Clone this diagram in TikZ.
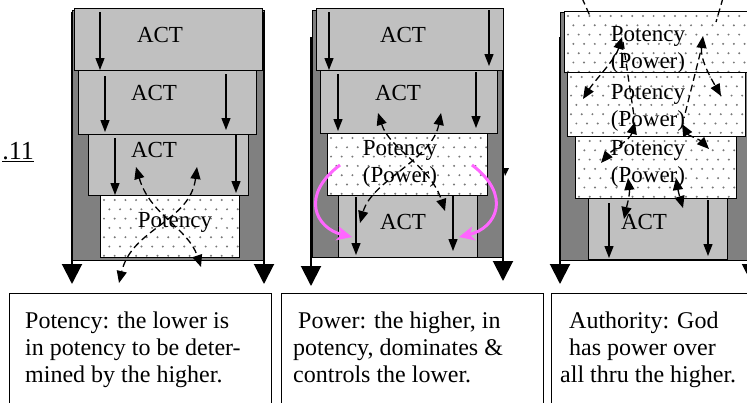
\documentclass[tikz,border=0pt]{standalone}
\usepackage{fontspec}
\setmainfont{Liberation Serif}
\usetikzlibrary{arrows.meta}
\definecolor{lightg}{RGB}{192,192,192}
\definecolor{darkg}{RGB}{128,128,128}
\definecolor{dotg}{RGB}{120,120,120}
\definecolor{pinkm}{RGB}{255,102,255}
\newcommand\mydots[4]{%
  \begin{scope}
    \clip (#1,#2) rectangle (#3,#4);
    \foreach \j in {0,...,7}{
      \foreach \i in {0,...,20}{
        \pgfmathsetmacro\xx{#1+4+\i*10.7+mod(\j,2)*5.35}
        \pgfmathsetmacro\yy{#2+5+\j*9.3}
        \fill[dotg] (\xx,\yy) circle (1.1pt);
      }
    }
  \end{scope}}
\tikzset{
  actbox/.style={draw=black, line width=0.9pt, fill=lightg},
  potbox/.style={draw=black, line width=0.9pt, fill=white},
  outerbox/.style={draw=black, line width=0.9pt, fill=darkg},
  sideline/.style={line width=2pt, -{Triangle[width=20pt,length=20pt]}},
  downarr/.style={line width=1.3pt, -{Triangle[width=9pt,length=12pt]}},
  dashline/.style={line width=1.3pt, dash pattern=on 7pt off 4pt},
  dasharr/.style={dashline, {Triangle[width=10pt,length=12pt]}-{Triangle[width=10pt,length=12pt]}},
  magarr/.style={draw=pinkm, line width=3pt, -{Stealth[width=14pt,length=15pt,inset=4pt]}},
  lab/.style={font=\fontsize{23}{27}\selectfont, align=center, inner sep=0pt},
  txt/.style={font=\fontsize{24}{27}\selectfont, align=left, inner sep=0pt, anchor=north west},
  capbox/.style={draw=black, line width=0.9pt, fill=white}
}
\begin{document}
\begin{tikzpicture}[x=1pt,y=-1pt]
\useasboundingbox (0,0) rectangle (747,402);
\fill[white] (0,0) rectangle (747,402);

% ---------- side label
\node[font=\fontsize{26}{30}\selectfont, inner sep=0pt, anchor=base east] (num) at (34,159) {\underline{.11}};

% ================= PANEL 1 =================
\draw[outerbox] (72,10) rectangle (264,260);
\coordinate (p1lt) at (72,12); \coordinate (p1lb) at (72,284);
\coordinate (p1rt) at (264,12); \coordinate (p1rb) at (264,284);
\draw[sideline] (p1lt) -- (p1lb);
\draw[sideline] (p1rt) -- (p1rb);
\draw[actbox] (74,8) rectangle (262,70);
\draw[actbox] (78,70) rectangle (256,134);
\draw[actbox] (88,134) rectangle (248,195);
\draw[potbox] (100,195) rectangle (239,257);
\mydots{100}{195}{239}{257}
\node[lab] (p1a) at (160,35) {ACT};
\node[lab] (p1b) at (154,93) {ACT};
\node[lab] (p1c) at (154,150) {ACT};
\node[lab] (p1d) at (175,222) {Potency};
\draw[downarr] (100,12) -- (100,70);
\draw[downarr] (105,76) -- (105,132);
\draw[downarr] (226,74) -- (226,130);
\draw[downarr] (115,138) -- (115,195);
\draw[downarr] (236,135) -- (236,193);
\draw[dasharr] (136,167) .. controls (150,215) and (188,228) .. (201,267);
\draw[dasharr] (197,167) .. controls (190,222) and (132,228) .. (119,283);

% ================= PANEL 2 =================
\draw[outerbox] (312,10) rectangle (503,257);
\coordinate (p2lt) at (311,37); \coordinate (p2lb) at (311,286);
\coordinate (p2rt) at (503,10); \coordinate (p2rb) at (503,281);
\draw[sideline] (p2lt) -- (p2lb);
\draw[sideline] (p2rt) -- (p2rb);
\fill[black] (503,168) -- (509,168) -- (505,176) -- cycle;
\draw[actbox] (316,8) rectangle (503,70);
\draw[actbox] (320,70) rectangle (497,133);
\draw[potbox] (327,133) rectangle (487,195);
\mydots{327}{133}{487}{195}
\draw[actbox] (338,195) rectangle (477,257);
\node[lab] (p2a) at (403,35) {ACT};
\node[lab] (p2b) at (398,93) {ACT};
\node[lab] (p2c) at (400,164) {Potency\\(Power)};
\node[lab] (p2d) at (403,222) {ACT};
\draw[downarr] (329,12) -- (329,70);
\draw[downarr] (489,10) -- (489,66);
\draw[downarr] (338,74) -- (338,131);
\draw[downarr] (476,72) -- (476,128);
\draw[downarr] (356,197) -- (356,255);
\draw[downarr] (453,195) -- (453,251);
\draw[dasharr] (378,113) .. controls (390,150) and (430,165) .. (445,211);
\draw[dasharr] (441,113) .. controls (432,160) and (372,180) .. (360,223);
\draw[magarr] (340,165) .. controls (300,195) and (315,228) .. (352,237);
\draw[magarr] (472,165) .. controls (512,195) and (497,228) .. (459,237);

% ================= PANEL 3 =================
\draw[outerbox] (560,12) rectangle (760,260);
\coordinate (p3lt) at (560,37); \coordinate (p3lb) at (560,284);
\coordinate (p3rt) at (752,12); \coordinate (p3rb) at (752,284);
\draw[sideline] (p3lt) -- (p3lb);
\draw[sideline] (p3rt) -- (p3rb);
\draw[potbox] (564,11) rectangle (760,72);
\mydots{564}{11}{760}{72}
\draw[potbox] (567,72) rectangle (745,136);
\mydots{567}{72}{745}{136}
\draw[potbox] (575,136) rectangle (736,198);
\mydots{575}{136}{736}{198}
\draw[actbox] (588,198) rectangle (727,259);
\node[lab] (p3a) at (648,50) {Potency\\(Power)};
\node[lab] (p3b) at (648,108) {Potency\\(Power)};
\node[lab] (p3c) at (648,164) {Potency\\(Power)};
\node[lab] (p3d) at (644,222) {ACT};
\draw[downarr] (609,203) -- (609,258);
\draw[downarr] (708,200) -- (708,256);
% dashed arrows
\draw[dashline] (582,-2) -- (590,16);
\draw[dashline] (723,-2) -- (716,22);
\draw[dasharr] (622,37) .. controls (615,60) and (595,80) .. (583,99);
\draw[dasharr] (703,36) .. controls (700,60) and (712,80) .. (721,96);
\draw[dasharr] (635,122) .. controls (630,140) and (612,150) .. (601,163);
\draw[dasharr] (682,124) .. controls (688,135) and (700,140) .. (709,149);
\draw[dasharr] (628,178) .. controls (630,195) and (627,205) .. (624,219);
\draw[dasharr] (676,178) .. controls (678,190) and (680,198) .. (683,208);
\draw[dashline] (703,42) -- (684,118);
\draw[dashline] (623,42) -- (634,116);

% ================= CAPTIONS =================
\draw[capbox] (9,293) rectangle (271,410);
\draw[capbox] (281,293) rectangle (543,410);
\draw[capbox] (551,293) rectangle (760,410);
\node[txt] (c1) at (25,312) {Potency: the lower is\\in potency to be deter-\\mined by the higher.};
\node[txt] (c2) at (293,312) {\hspace*{5pt}Power: the higher, in\\potency, dominates \&\\controls the lower.};
\node[txt] (c3) at (560,312) {\hspace*{9pt}Authority: God\\\hspace*{9pt}has power over\\all thru the higher.};
\end{tikzpicture}
\end{document}
